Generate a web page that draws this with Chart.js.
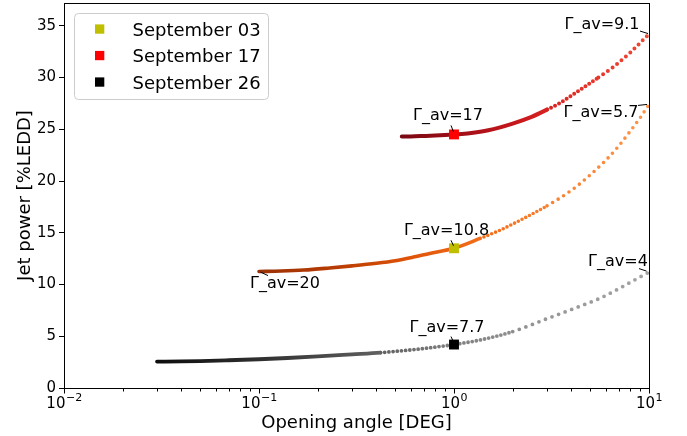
<!DOCTYPE html>
<html>
<head>
<meta charset="utf-8">
<script src="https://cdn.jsdelivr.net/npm/chart.js@4/dist/chart.umd.min.js"></script>
<style>
  html, body { margin: 0; padding: 0; background: #fff; }
  #wrap { width: 687px; height: 436px; }
</style>
</head>
<body>
<div id="wrap"><canvas id="c" width="687" height="436"></canvas></div>
<script>
// Jet power (% of Eddington) as a function of the jet opening angle (degrees)
const angleSep03 = [0.1, 0.13, 0.17, 0.23, 0.3, 0.4, 0.5, 0.62, 0.75, 1.0, 1.36, 1.7, 2.18, 3, 4, 5, 6, 7, 8, 9, 10];
const powerSep03 = [11.25, 11.3, 11.4, 11.6, 11.8, 12.05, 12.3, 12.65, 13.0, 13.5, 14.45, 15.2, 16.2, 17.6, 19.1, 20.6, 22.0, 23.4, 24.8, 26.1, 27.4];

const angleSep17 = [0.54, 0.6, 0.7, 0.8, 0.9, 1.0, 1.2, 1.5, 2.0, 2.5, 3.0, 3.5, 4.43, 5.5, 6.54, 8.0, 10.0];
const powerSep17 = [24.3, 24.31, 24.35, 24.39, 24.44, 24.5, 24.62, 24.9, 25.55, 26.2, 26.9, 27.55, 28.8, 30.0, 31.0, 32.4, 34.2];

const angleSep26 = [0.03, 0.04, 0.05, 0.07, 0.1, 0.14, 0.2, 0.3, 0.42, 0.6, 0.8, 1.0, 1.36, 2.0, 3.0, 4.43, 5.5, 6.54, 8.0, 10.0];
const powerSep26 = [2.55, 2.57, 2.6, 2.68, 2.78, 2.9, 3.05, 3.25, 3.42, 3.68, 3.95, 4.2, 4.64, 5.45, 6.7, 7.9, 8.6, 9.3, 10.2, 11.2];

// Solutions marked at a 1 degree opening angle
const markerLabels = ['September 03', 'September 17', 'September 26'];
const markerAngle = [1, 1, 1];
const markerPower = [13.5, 24.5, 4.2];

// Average bulk Lorentz factor at selected points of the curves
const gammaText  = ['\u0393_av=9.1', '\u0393_av=17', '\u0393_av=5.7', '\u0393_av=10.8', '\u0393_av=20', '\u0393_av=7.7', '\u0393_av=4'];
const gammaAngle = [10, 1, 10, 1, 0.1, 1, 10];
const gammaPower = [34.2, 24.5, 27.4, 13.5, 11.25, 4.2, 11.2];

// Axis ticks
const xTickExponents = [-2, -1, 0, 1];
const yTicks = [0, 5, 10, 15, 20, 25, 30, 35];

// ---- styling ----
const FONT = "'DejaVu Sans', 'Liberation Sans', sans-serif";
const markerColors = ['#bfbf00', '#ff0000', '#000000'];

// colour along each curve: [angle, colour]
const stopsSep03 = [[0.1, '#9c3204'], [0.25, '#b83c03'], [0.6, '#e05409'], [1.2, '#f06a16'], [3, '#f9802e'], [10, '#fd9447']];
const stopsSep17 = [[0.54, '#7a0914'], [1.0, '#9e0e17'], [2.0, '#c5161c'], [4.0, '#e22d26'], [10, '#f14a36']];
const stopsSep26 = [[0.03, '#0d0d0d'], [0.1, '#2f2f2f'], [0.3, '#555555'], [1.0, '#808080'], [3, '#979797'], [10, '#a3a3a3']];

// dash zones along each curve: [upper angle, dash pattern]
const dashSep03 = [[1.2, []], [3.0, [0, 4.2]], [100, [0, 6.5]]];
const dashSep17 = [[3.0, []], [6.0, [0, 4.5]], [100, [0, 5.8]]];
const dashSep26 = [[0.45, []], [2.0, [0, 4.2]], [100, [0, 7]]];

function makeGradient(chart, stops) {
  const xs = chart.scales.x;
  if (!chart.chartArea || !xs) return stops[0][1];
  const x0 = xs.getPixelForValue(stops[0][0]);
  const x1 = xs.getPixelForValue(stops[stops.length - 1][0]);
  const g = chart.ctx.createLinearGradient(x0, 0, x1, 0);
  stops.forEach(([a, c]) => {
    const f = (xs.getPixelForValue(a) - x0) / (x1 - x0);
    g.addColorStop(Math.min(1, Math.max(0, f)), c);
  });
  return g;
}

function dashFor(zones, angle) {
  for (const [upper, pattern] of zones) if (angle < upper) return pattern;
  return zones[zones.length - 1][1];
}

function curve(angles, powers, stops, zones, width) {
  return {
    type: 'line',
    data: angles.map((a, i) => ({ x: a, y: powers[i] })),
    borderColor: ctx => makeGradient(ctx.chart, stops),
    borderWidth: width,
    borderCapStyle: 'round',
    borderJoinStyle: 'round',
    pointRadius: 0,
    cubicInterpolationMode: 'monotone',
    fill: false,
    order: 2,
    segment: {
      borderDash: ctx => dashFor(zones, (angles[ctx.p0DataIndex] + angles[ctx.p1DataIndex]) / 2)
    }
  };
}

function marker(i) {
  return {
    type: 'line',
    label: markerLabels[i],
    data: [{ x: markerAngle[i], y: markerPower[i] }],
    showLine: false,
    pointStyle: 'rect',
    pointRadius: 7,
    pointBackgroundColor: markerColors[i],
    pointBorderWidth: 0,
    order: 0
  };
}

// text offset and connector line (start, end) relative to the labelled point, px
const gammaLayout = [
  { t: [-47, -11], a: [-9, -3],  b: [-1, -0.5] },
  { t: [-6, -20],  a: [-3, -9],  b: [-0.5, -2.5] },
  { t: [-48, 7],   a: [-11, 1],  b: [-2, 0] },
  { t: [-7.5, -19],a: [-3, -8],  b: [-0.5, -2.5] },
  { t: [26, 11],   a: [9, 4],    b: [1.5, 0.5] },
  { t: [-7, -18.5],a: [-3, -8],  b: [-0.5, -2.5] },
  { t: [-31, -12], a: [-10, -3.5], b: [-2.5, -1] }
];

function supLabel(ctx, x, y, base, exp) {
  ctx.font = '15px ' + FONT;
  const wb = ctx.measureText(base).width;
  ctx.font = '11px ' + FONT;
  const we = ctx.measureText(exp).width;
  const x0 = x - (wb + we) / 2;
  ctx.textAlign = 'left';
  ctx.textBaseline = 'alphabetic';
  ctx.font = '15px ' + FONT;
  ctx.fillText(base, x0, y);
  ctx.font = '11px ' + FONT;
  ctx.fillText(exp, x0 + wb + 0.5, y - 6.5);
}

const decor = {
  id: 'decor',
  afterDraw(chart) {
    const { ctx, chartArea: ca, scales: { x: xs, y: ys } } = chart;
    ctx.save();
    ctx.fillStyle = '#000';
    ctx.strokeStyle = '#000';
    ctx.lineWidth = 1;

    // frame
    ctx.strokeRect(Math.round(ca.left) + 0.5, Math.round(ca.top) + 0.5,
                   Math.round(ca.right - ca.left), Math.round(ca.bottom - ca.top));

    // x ticks (major + minor) and labels
    const yb = Math.round(ca.bottom) + 0.5;
    ctx.beginPath();
    xTickExponents.forEach((e, k) => {
      const base = Math.pow(10, e);
      const px = Math.round(xs.getPixelForValue(base)) + 0.5;
      ctx.moveTo(px, yb); ctx.lineTo(px, yb + 5);
      if (k < xTickExponents.length - 1) {
        for (let m = 2; m <= 9; m++) {
          const mx = Math.round(xs.getPixelForValue(m * base)) + 0.5;
          ctx.moveTo(mx, yb); ctx.lineTo(mx, yb + 3);
        }
      }
    });
    ctx.stroke();
    xTickExponents.forEach(e => {
      supLabel(ctx, xs.getPixelForValue(Math.pow(10, e)), ca.bottom + 19.5, '10', e < 0 ? '\u2212' + (-e) : String(e));
    });

    // axis titles
    ctx.font = '18px ' + FONT;
    ctx.textAlign = 'center';
    ctx.textBaseline = 'alphabetic';
    ctx.fillText('Opening angle [DEG]', (ca.left + ca.right) / 2, 428);
    ctx.save();
    ctx.translate(30, (ca.top + ca.bottom) / 2);
    ctx.rotate(-Math.PI / 2);
    ctx.fillText('Jet power [%LEDD]', 0, 0);
    ctx.restore();

    // Lorentz-factor annotations
    ctx.font = '16px ' + FONT;
    ctx.textAlign = 'center';
    gammaText.forEach((txt, i) => {
      const px = xs.getPixelForValue(gammaAngle[i]);
      const py = ys.getPixelForValue(gammaPower[i]);
      const L = gammaLayout[i];
      ctx.fillText(txt, px + L.t[0], py + L.t[1] + 5.8);
      ctx.beginPath();
      ctx.moveTo(px + L.a[0], py + L.a[1]);
      ctx.lineTo(px + L.b[0], py + L.b[1]);
      ctx.stroke();
    });

    // legend
    const lx = ca.left + 10.5, ly = ca.top + 10.5, lw = 194, lh = 86;
    ctx.beginPath();
    ctx.roundRect(lx, ly, lw, lh, 4);
    ctx.fillStyle = 'rgba(255,255,255,0.85)';
    ctx.fill();
    ctx.strokeStyle = '#cccccc';
    ctx.stroke();
    ctx.font = '18px ' + FONT;
    ctx.textAlign = 'left';
    markerLabels.forEach((lab, i) => {
      const cy = ly + 15.5 + i * 26.5;
      ctx.fillStyle = markerColors[i];
      ctx.fillRect(lx + 20.5, cy - 4.6, 9.3, 9.3);
      ctx.fillStyle = '#000';
      ctx.fillText(lab, lx + 58, cy + 6.5);
    });
    ctx.restore();
  }
};

new Chart(document.getElementById('c'), {
  type: 'line',
  data: {
    datasets: [
      marker(0), marker(1), marker(2),
      curve(angleSep17, powerSep17, stopsSep17, dashSep17, 4),
      curve(angleSep03, powerSep03, stopsSep03, dashSep03, 3.6),
      curve(angleSep26, powerSep26, stopsSep26, dashSep26, 3.8)
    ]
  },
  options: {
    responsive: false,
    animation: false,
    events: [],
    devicePixelRatio: 1,
    layout: { autoPadding: false, padding: { top: 3, right: 38, bottom: 0, left: 0 } },
    plugins: { legend: { display: false }, tooltip: { enabled: false } },
    scales: {
      x: {
        type: 'logarithmic',
        min: 0.01,
        max: 10,
        ticks: { display: false },
        grid: { display: false },
        border: { display: false },
        afterFit(s) { s.height = 48; s.paddingLeft = 0; s.paddingRight = 0; }
      },
      y: {
        type: 'linear',
        min: 0,
        max: 37.2,
        afterBuildTicks(s) { s.ticks = yTicks.map(v => ({ value: v })); },
        ticks: { color: '#000', font: { family: FONT, size: 15 }, padding: 3 },
        grid: { drawOnChartArea: false, drawTicks: true, tickLength: 5, tickColor: '#000', color: '#000' },
        border: { display: false },
        afterFit(s) { s.width = 64; s.paddingTop = 0; s.paddingBottom = 0; }
      }
    }
  },
  plugins: [decor]
});
</script>
</body>
</html>
